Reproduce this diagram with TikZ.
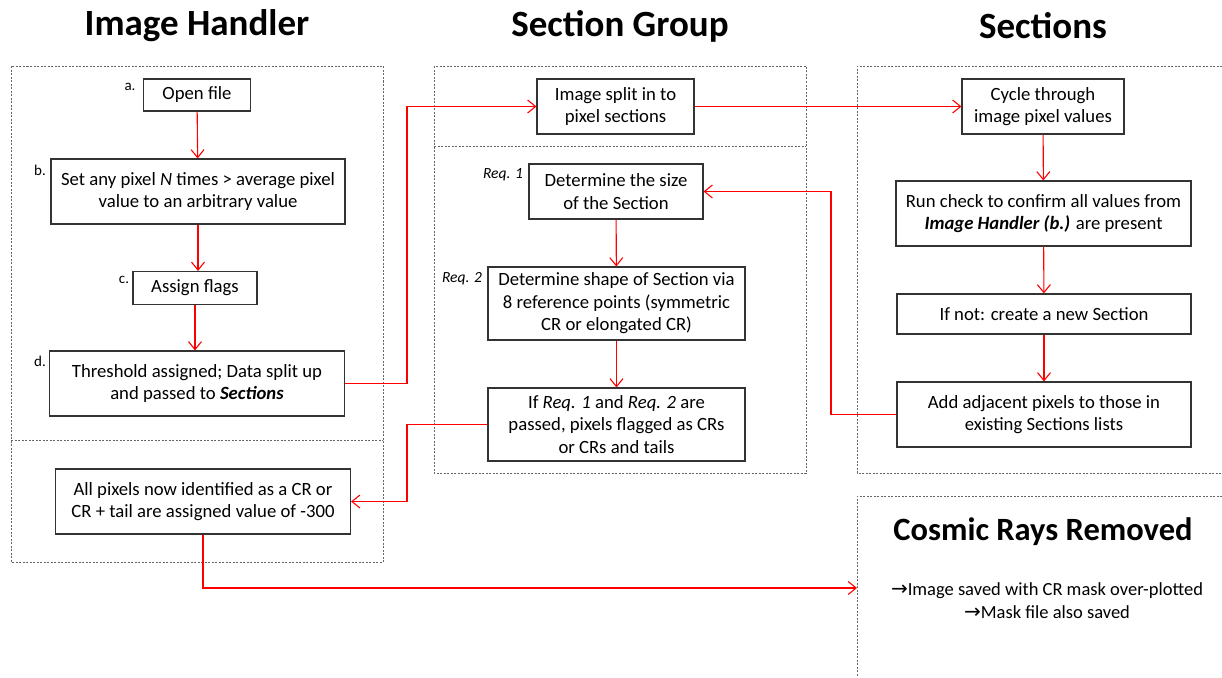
\documentclass[tikz,border=0pt]{standalone}
\usepackage{fontspec}
\setmainfont{Carlito}
\newfontfamily\symfont{DejaVu Sans}
\usetikzlibrary{arrows.meta}

\begin{document}
\begin{tikzpicture}[x=1pt, y=-1pt,
    box/.style={draw=black!80, line width=1.1pt, align=center, inner sep=0pt,
        font=\fontsize{18.7}{22.5}\selectfont},
    flow/.style={draw=red, line width=1.1pt, -{Straight Barb[length=8pt, width=13pt]}},
    group/.style={draw=black!60, line width=1pt, dash pattern=on 2pt off 1.5pt},
    title/.style={font=\fontsize{37}{42}\selectfont\bfseries},
    tag/.style={font=\fontsize{15}{17}\selectfont}]
    \useasboundingbox (0, 0) rectangle (1222, 677);

    % Titel der drei Spalten
    \node[title] (tihandler) at (197, 26) {Image Handler};
    \node[title] (tigroup) at (620, 26) {Section Group};
    \node[title] (tisections) at (1043, 26) {Sections};

    % gepunktete Bereiche
    \draw[group] (11, 66) rectangle (383, 562);
    \draw[group] (11, 440) -- (383, 440);
    \draw[group] (434, 66) rectangle (806, 473);
    \draw[group] (434, 146) -- (806, 146);
    \draw[group] (1222, 66) -- (857, 66) -- (857, 473) -- (1222, 473);
    \draw[group] (1222, 496) -- (857, 496) -- (857, 677);

    % Image Handler
    \node[box, minimum width=107, minimum height=32] (open) at (197, 95) {Open file};
    \node[tag] (ta) at (130, 87) {a.};
    \node[box, minimum width=294, minimum height=65] (setpix) at (198, 191.5)
        {Set any pixel \textit{N} times > average pixel\\ value to an arbitrary value};
    \node[tag] (tb) at (40, 170) {b.};
    \node[box, minimum width=124, minimum height=33] (flags) at (195, 288) {Assign flags};
    \node[tag] (tc) at (124, 280) {c.};
    \node[box, minimum width=295, minimum height=65] (thresh) at (197, 383.5)
        {Threshold assigned; Data split up\\ and passed to \textbf{\textit{Sections}}};
    \node[tag] (td) at (40, 361) {d.};
    \node[box, minimum width=295, minimum height=65] (allpix) at (203, 501.5)
        {All pixels now identified as a CR or\\ CR + tail are assigned value of -300};

    % Section Group
    \node[box, minimum width=157, minimum height=55] (split) at (615.5, 106.5)
        {Image split in to\\ pixel sections};
    \node[box, minimum width=174, minimum height=55] (size) at (616, 191.5)
        {Determine the size\\ of the Section};
    \node[tag, font=\fontsize{15.5}{17}\selectfont\itshape] (treq1) at (503, 175) {Req. 1};
    \node[box, minimum width=257, minimum height=73] (shape) at (616.5, 303.5)
        {Determine shape of Section via\\ 8 reference points (symmetric\\ CR or elongated CR)};
    \node[tag, font=\fontsize{15.5}{17}\selectfont\itshape] (treq2) at (462, 279) {Req. 2};
    \node[box, minimum width=257, minimum height=73] (passed) at (616.5, 424.5)
        {If \textit{Req. 1} and \textit{Req. 2} are\\ passed, pixels flagged as CRs\\ or CRs and tails};

    % Sections
    \node[box, minimum width=162, minimum height=55] (cycle) at (1043, 106.5)
        {Cycle through\\ image pixel values};
    \node[box, minimum width=295, minimum height=65] (check) at (1043.5, 213.5)
        {Run check to confirm all values from\\ \textbf{\textit{Image Handler (b.)}} are present};
    \node[box, minimum width=294, minimum height=40] (newsec) at (1044, 314)
        {If not: create a new Section};
    \node[box, minimum width=294, minimum height=65] (adjacent) at (1044, 414.5)
        {Add adjacent pixels to those in\\ existing Sections lists};

    % Cosmic Rays Removed
    \node[font=\fontsize{32.5}{38}\selectfont\bfseries] (tiremoved) at (1043, 532)
        {Cosmic Rays Removed};
    \node[align=center, font=\fontsize{18.5}{23}\selectfont] (saved) at (1047, 601)
        {{\symfont\fontsize{20}{23}\selectfont →}Image saved with CR mask over-plotted\\
         {\symfont\fontsize{20}{23}\selectfont →}Mask file also saved};

    % Hilfspunkte fuer die Verbindungen
    \coordinate (jl) at (407, 0);
    \coordinate (jr) at (831, 0);
    \coordinate (crin) at (857, 588);

    % Verbindungen
    \draw[flow] (open) -- (setpix);
    \draw[flow] (setpix.south) -- (setpix.south |- flags.north);
    \draw[flow] (flags.south) -- (flags.south |- thresh.north);
    \draw[flow] (thresh.east) -- (thresh.east -| jl) |- (split.west);
    \draw[flow] (split) -- (cycle);
    \draw[flow] (cycle) -- (check);
    \draw[flow] (check) -- (newsec);
    \draw[flow] (newsec) -- (adjacent);
    \draw[flow] (adjacent.west) -- (adjacent.west -| jr) |- (size.east);
    \draw[flow] (size) -- (shape);
    \draw[flow] (shape) -- (passed);
    \draw[flow] (passed.west) -- (passed.west -| jl) |- (allpix.east);
    \draw[flow] (allpix.south) |- (crin);
\end{tikzpicture}
\end{document}
